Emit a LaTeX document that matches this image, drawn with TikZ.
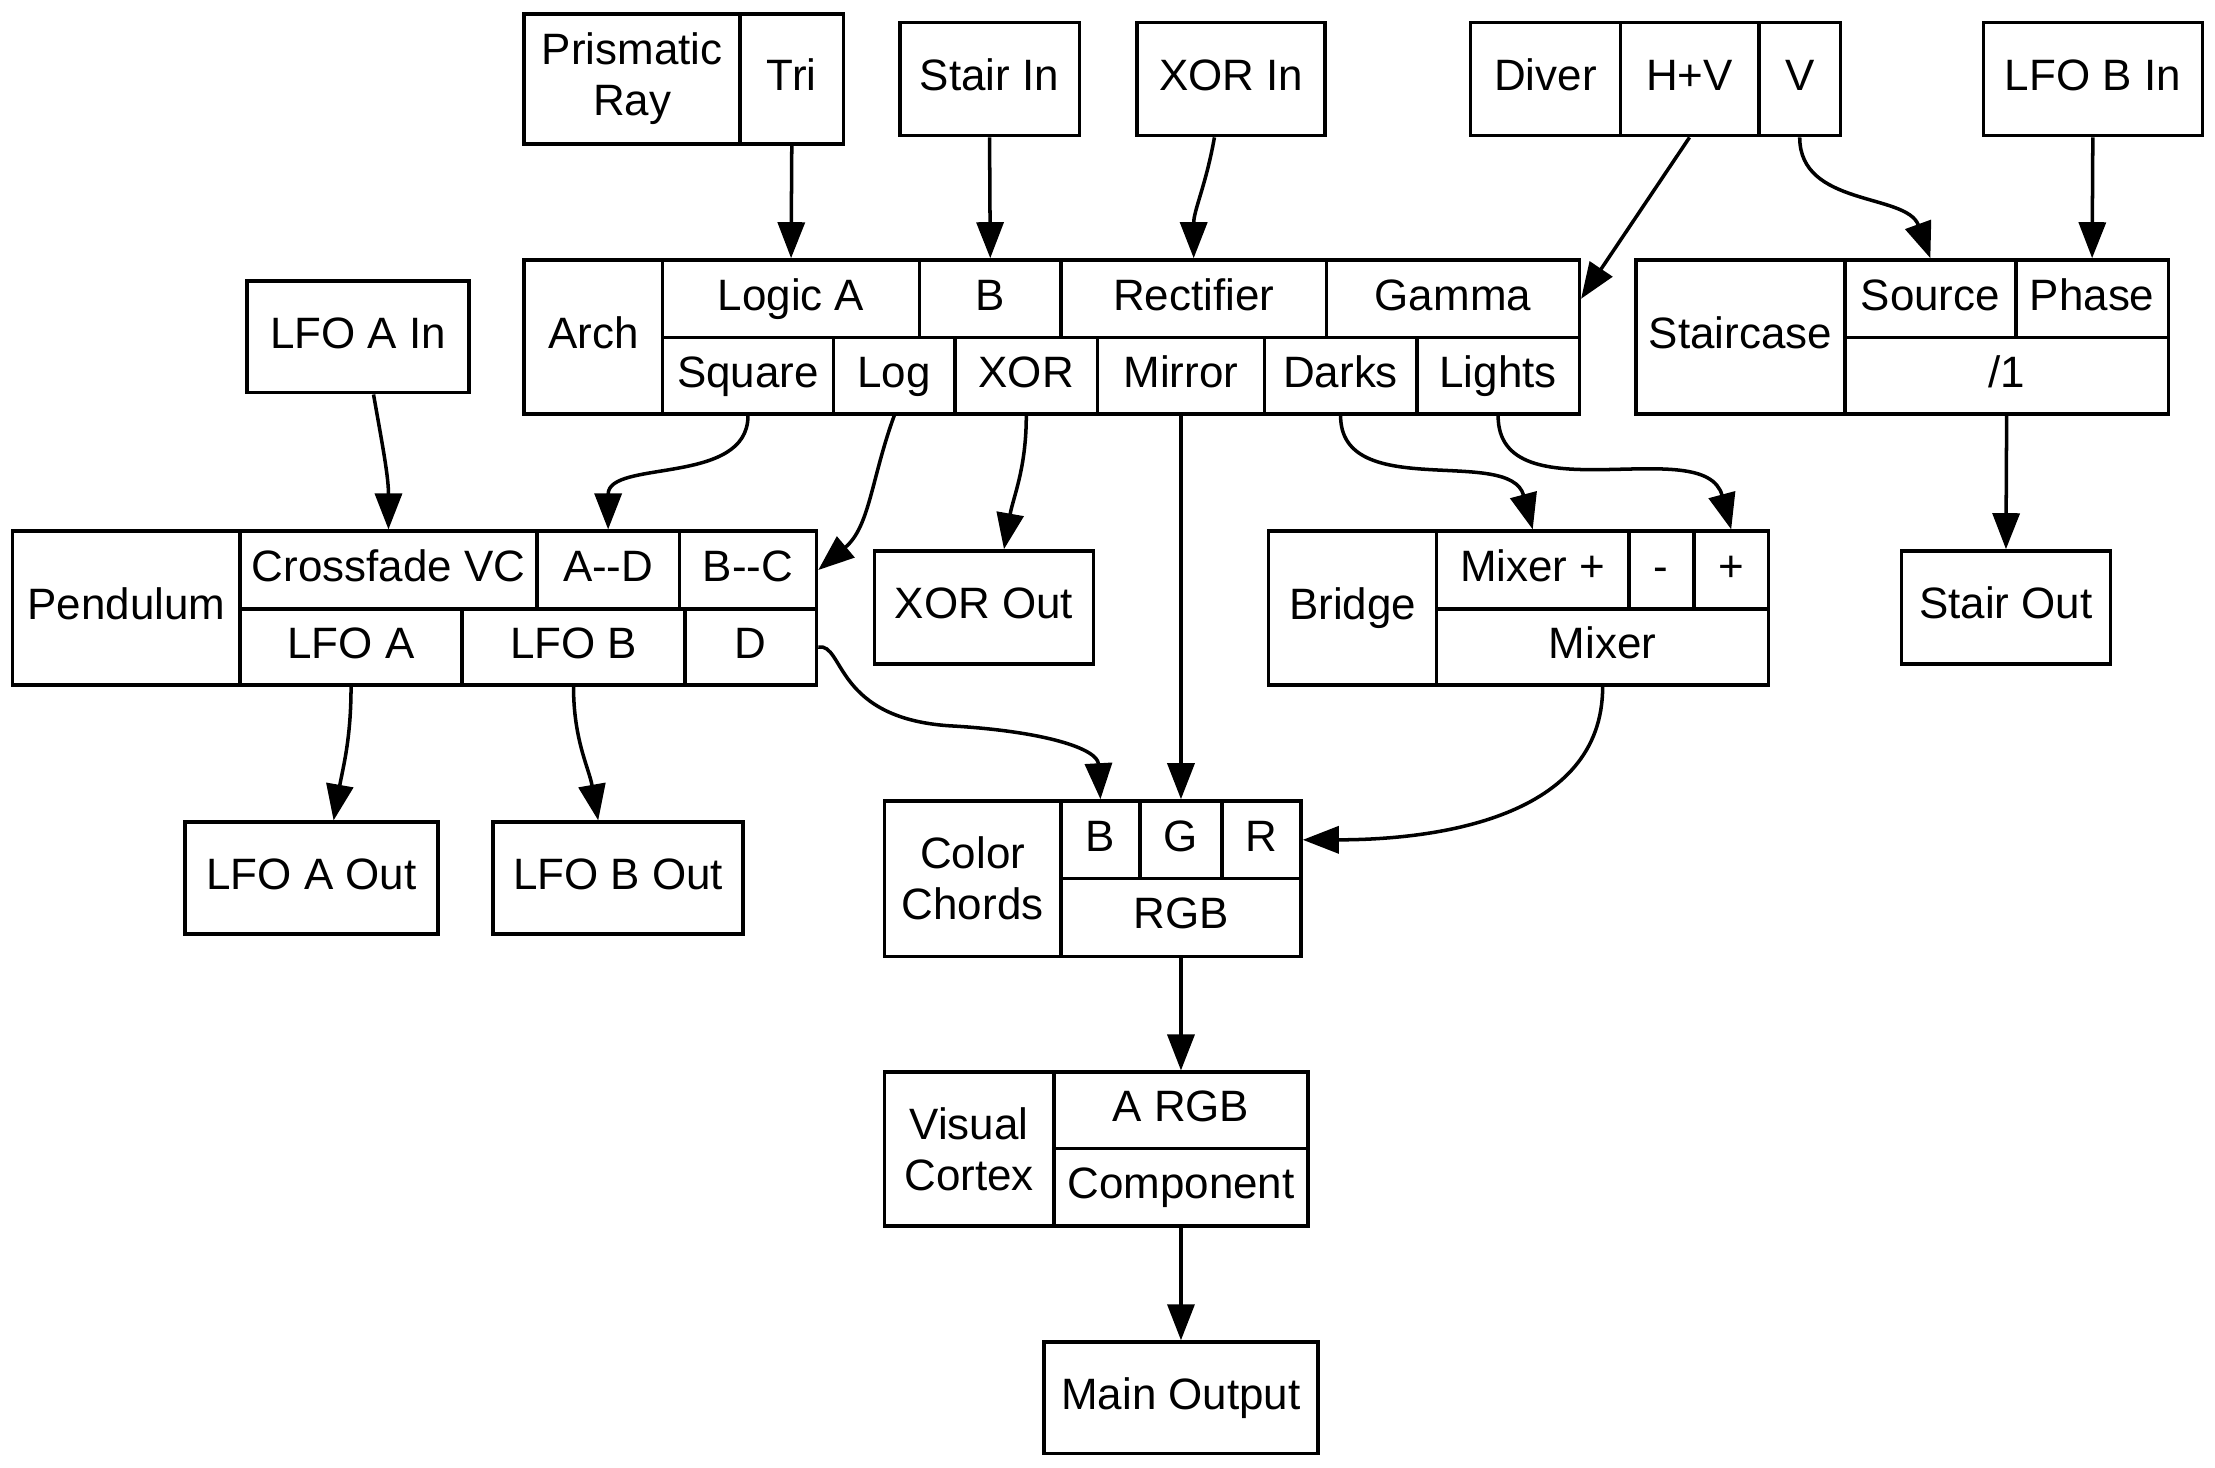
\documentclass[tikz,border=0pt]{standalone}
\usepackage{fontspec}
\setmainfont{Liberation Sans}
\usepackage{tikz}
\usetikzlibrary{arrows.meta,fit}

\begin{document}
\begin{tikzpicture}[x=0.14126mm, y=-0.14126mm,
      cell/.style={draw, line width=1pt, inner sep=0pt,
        label={[text height=0.84em, text depth=0.2em]center:{#1}}},
      twoline/.style={draw, line width=1pt, inner sep=0pt, label=center:{#1}},
      every label/.style={inner sep=0pt, align=center,
        font=\fontsize{12.5}{14.5}\selectfont},
      wire/.style={-{Triangle[length=3.6mm, width=2.7mm]}, line width=1pt}
    ]
    \useasboundingbox (0,0) rectangle (1568,1039);

    % inputs
    \node[twoline={Prismatic\\Ray}, fit={(371,10) (524,102)}] (prism) {};
    \node[cell=Tri, fit={(524,10) (597,102)}] (tri) {};
    \node[cell=Stair In, fit={(637,16) (764,96)}] (stairin) {};
    \node[cell=XOR In, fit={(805,16) (938,96)}] (xorin) {};
    \node[cell=Diver, fit={(1041,16) (1147,96)}] (diver) {};
    \node[cell=H+V, fit={(1147,16) (1245,96)}] (hv) {};
    \node[cell=V, fit={(1245,16) (1303,96)}] (dv) {};
    \node[cell=LFO B In, fit={(1404,16) (1559,96)}] (lfobin) {};
    \node[cell=LFO A In, fit={(175,199) (332,278)}] (lfoain) {};

    % arch
    \node[cell=Arch, fit={(371,184) (469,293)}] (arch) {};
    \node[cell=Logic A, fit={(469,184) (651,239)}] (logica) {};
    \node[cell=B, fit={(651,184) (751,239)}] (archb) {};
    \node[cell=Rectifier, fit={(751,184) (939,239)}] (rect) {};
    \node[cell=Gamma, fit={(939,184) (1118,239)}] (gamma) {};
    \node[cell=Square, fit={(469,239) (590,293)}] (square) {};
    \node[cell=Log, fit={(590,239) (676,293)}] (log) {};
    \node[cell=XOR, fit={(676,239) (777,293)}] (xor) {};
    \node[cell=Mirror, fit={(777,239) (895,293)}] (mirror) {};
    \node[cell=Darks, fit={(895,239) (1003,293)}] (darks) {};
    \node[cell=Lights, fit={(1003,239) (1118,293)}] (lights) {};

    % staircase
    \node[cell=Staircase, fit={(1158,184) (1306,293)}] (stair) {};
    \node[cell=Source, fit={(1306,184) (1427,239)}] (source) {};
    \node[cell=Phase, fit={(1427,184) (1535,239)}] (phase) {};
    \node[cell=/1, fit={(1306,239) (1535,293)}] (div) {};

    % pendulum
    \node[cell=Pendulum, fit={(9,376) (170,485)}] (pend) {};
    \node[cell=Crossfade VC, fit={(170,376) (380,431)}] (xfade) {};
    \node[cell={A-{}-D}, fit={(380,376) (481,431)}] (ad) {};
    \node[cell={B-{}-C}, fit={(481,376) (578,431)}] (bc) {};
    \node[cell=LFO A, fit={(170,431) (327,485)}] (lfoa) {};
    \node[cell=LFO B, fit={(327,431) (485,485)}] (lfob) {};
    \node[cell=D, fit={(485,431) (578,485)}] (pd) {};

    \node[cell=XOR Out, fit={(619,390) (774,470)}] (xorout) {};

    % bridge
    \node[cell=Bridge, fit={(898,376) (1017,485)}] (bridge) {};
    \node[cell=Mixer +, fit={(1017,376) (1153,431)}] (mixp) {};
    \node[cell=-, fit={(1153,376) (1199,431)}] (minus) {};
    \node[cell=+, fit={(1199,376) (1252,431)}] (plus) {};
    \node[cell=Mixer, fit={(1017,431) (1252,485)}] (mixer) {};

    \node[cell=Stair Out, fit={(1346,390) (1494,470)}] (stairout) {};
    \node[cell=LFO A Out, fit={(131,582) (310,661)}] (lfoaout) {};
    \node[cell=LFO B Out, fit={(349,582) (526,661)}] (lfobout) {};

    % color chords
    \node[twoline={Color\\Chords}, fit={(626,567) (751,677)}] (chords) {};
    \node[cell=B, fit={(751,567) (807,622)}] (ccb) {};
    \node[cell=G, fit={(807,567) (865,622)}] (ccg) {};
    \node[cell=R, fit={(865,567) (921,622)}] (ccr) {};
    \node[cell=RGB, fit={(751,622) (921,677)}] (rgb) {};

    % visual cortex
    \node[twoline={Visual\\Cortex}, fit={(626,759) (746,868)}] (cortex) {};
    \node[cell=A RGB, fit={(746,759) (926,813)}] (argb) {};
    \node[cell=Component, fit={(746,813) (926,868)}] (comp) {};
    \node[cell=Main Output, fit={(739,950) (933,1029)}] (mainout) {};

    % wires
    \draw[wire] (tri.south) -- (logica.north);
    \draw[wire] (stairin.south) -- (archb.north);
    \draw[wire] (xorin.-106) to[out=-100, in=90] (rect.north);
    \draw[wire] (hv.south) -- (gamma.east);
    \draw[wire] (dv.south) to[out=-90, in=110] (source.north);
    \draw[wire] (lfobin.south) -- (phase.north);
    \draw[wire] (lfoain.-75) to[out=-80, in=90] (xfade.north);
    \draw[wire] (square.south) to[out=-90, in=90] (ad.north);
    \draw[wire] (log.south) to[out=-110, in=40] (bc.east);
    \draw[wire] (xor.south) to[out=-90, in=80] (xorout.71);
    \draw[wire] (mirror.south) -- (ccg.north);
    \draw[wire] (darks.south) to[out=-90, in=105] (mixp.north);
    \draw[wire] (lights.south) to[out=-90, in=105] (plus.north);
    \draw[wire] (div.south) -- (stairout.north);
    \draw[wire] (lfoa.south) to[out=-90, in=80] (lfoaout.69);
    \draw[wire] (lfob.south) to[out=-90, in=100] (lfobout.109);
    \draw[wire] (pd.east) .. controls (598,455) and (590,510) .. (676,514)
      .. controls (740,518) and (777,530) .. (ccb.north);
    \draw[wire] (mixer.south) to[out=-90, in=0] (ccr.east);
    \draw[wire] (rgb.south) -- (argb.north);
    \draw[wire] (comp.south) -- (mainout.north);
  \end{tikzpicture}
\end{document}
